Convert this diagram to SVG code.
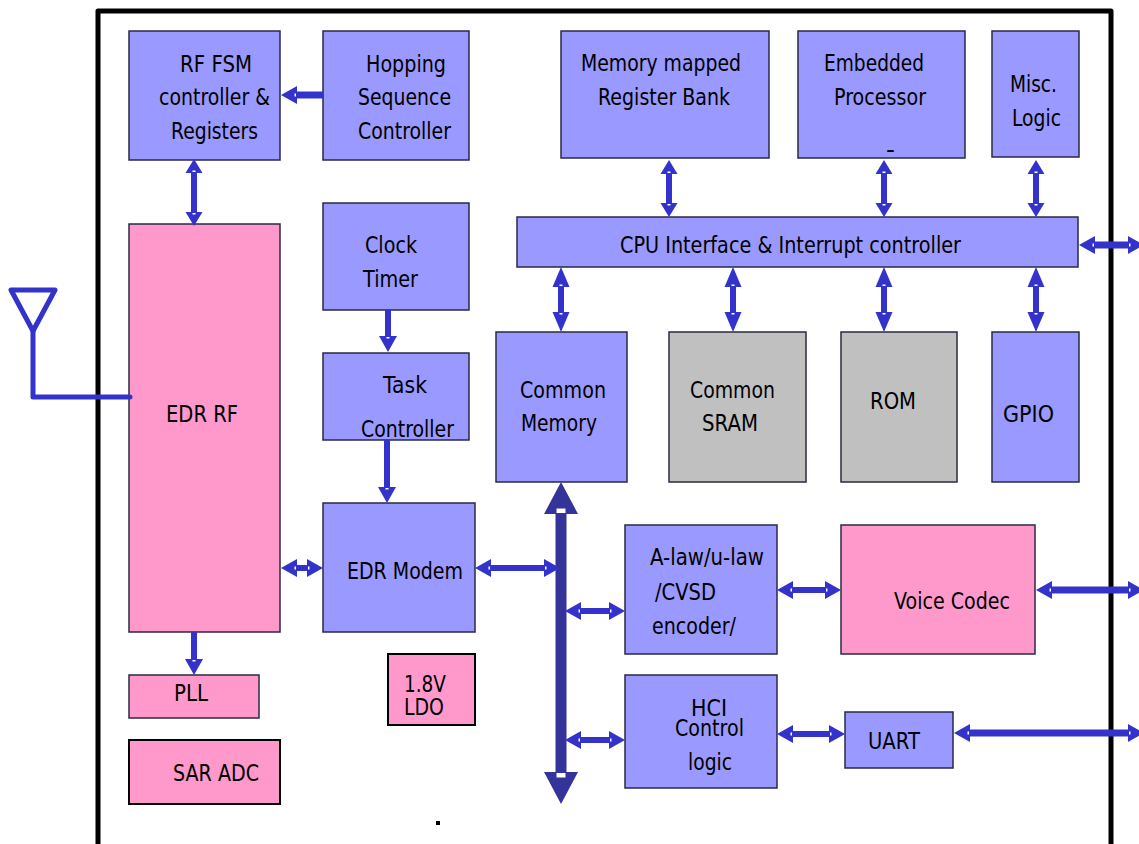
<svg xmlns="http://www.w3.org/2000/svg" width="1139" height="844" viewBox="0 0 1139 844">
<style>
.n{stroke:#2a2a44;stroke-width:1.5}
.b{fill:#9999ff}.p{fill:#ff99cc}.g{fill:#c0c0c0}
.k{stroke:#000;stroke-width:2}
text{font-family:"DejaVu Sans",Verdana,sans-serif;font-size:23px;fill:#000}
.c{stroke:#3333cc;stroke-width:6;fill:none}
.w{stroke-width:7}
</style>
<defs>
<marker id="a" markerUnits="userSpaceOnUse" markerWidth="14" markerHeight="18" viewBox="0 0 14 18" refX="0" refY="9" orient="auto-start-reverse"><path d="M0,0.5L14,9L0,17.5z" fill="#3333cc"/><rect x="1" y="7.5" width="1.5" height="3" fill="#fff"/></marker>
<marker id="h" markerUnits="userSpaceOnUse" markerWidth="20" markerHeight="18" viewBox="0 0 20 18" refX="0" refY="9" orient="auto-start-reverse"><path d="M0,0.5L20,9L0,17.5z" fill="#3333cc"/><rect x="1" y="7.5" width="1.5" height="3" fill="#fff"/></marker>
<marker id="m" markerUnits="userSpaceOnUse" markerWidth="16" markerHeight="18" viewBox="0 0 16 18" refX="0" refY="9" orient="auto-start-reverse"><path d="M0,0L16,9L0,18z" fill="#3333cc"/><rect x="1" y="7.5" width="1.5" height="3" fill="#fff"/></marker>
<marker id="big" markerUnits="userSpaceOnUse" markerWidth="32" markerHeight="34" viewBox="0 0 32 34" refX="0" refY="17" orient="auto-start-reverse"><path d="M0,0L32,17L0,34z" fill="#333399"/><rect x="1" y="12.5" width="4.5" height="9" fill="#fff"/></marker>
</defs>
<path id="frame" d="M98,844V11H1111V844" fill="none" stroke="#000" stroke-width="5" stroke-linejoin="round"/>
<g id="rf-fsm"><rect class="n b" x="129" y="31" width="151" height="129"/><text x="180" y="72" textLength="72" lengthAdjust="spacingAndGlyphs">RF FSM</text><text x="159" y="105" textLength="111" lengthAdjust="spacingAndGlyphs">controller &amp;</text><text x="171" y="139" textLength="87" lengthAdjust="spacingAndGlyphs">Registers</text></g>
<g id="hopping"><rect class="n b" x="323" y="31" width="146" height="129"/><text x="366" y="72" textLength="80" lengthAdjust="spacingAndGlyphs">Hopping</text><text x="358" y="105" textLength="93" lengthAdjust="spacingAndGlyphs">Sequence</text><text x="358" y="139" textLength="93" lengthAdjust="spacingAndGlyphs">Controller</text></g>
<g id="register-bank"><rect class="n b" x="561" y="31" width="208" height="127"/><text x="581" y="71" textLength="160" lengthAdjust="spacingAndGlyphs">Memory mapped</text><text x="598" y="105" textLength="132" lengthAdjust="spacingAndGlyphs">Register Bank</text></g>
<g id="processor"><rect class="n b" x="798" y="31" width="167" height="127"/><text x="824" y="71" textLength="100" lengthAdjust="spacingAndGlyphs">Embedded</text><text x="834" y="105" textLength="92" lengthAdjust="spacingAndGlyphs">Processor</text><text x="886" y="157" textLength="9" lengthAdjust="spacingAndGlyphs">-</text></g>
<g id="misc"><rect class="n b" x="992" y="31" width="87" height="126"/><text x="1010" y="92" textLength="47" lengthAdjust="spacingAndGlyphs">Misc.</text><text x="1012" y="126" textLength="49" lengthAdjust="spacingAndGlyphs">Logic</text></g>
<g id="cpu"><rect class="n b" x="517" y="217" width="561" height="50"/><text x="620" y="253" textLength="341" lengthAdjust="spacingAndGlyphs">CPU Interface &amp; Interrupt controller</text></g>
<g id="clock"><rect class="n b" x="323" y="203" width="146" height="107"/><text x="365" y="253" textLength="52" lengthAdjust="spacingAndGlyphs">Clock</text><text x="363" y="287" textLength="55" lengthAdjust="spacingAndGlyphs">Timer</text></g>
<g id="task"><rect class="n b" x="323" y="353" width="146" height="87"/><text x="383" y="393" textLength="44" lengthAdjust="spacingAndGlyphs">Task</text><text x="361" y="437" textLength="93" lengthAdjust="spacingAndGlyphs">Controller</text></g>
<g id="common-memory"><rect class="n b" x="496" y="332" width="131" height="150"/><text x="520" y="398" textLength="86" lengthAdjust="spacingAndGlyphs">Common</text><text x="521" y="431" textLength="76" lengthAdjust="spacingAndGlyphs">Memory</text></g>
<g id="sram"><rect class="n g" x="669" y="332" width="137" height="150"/><text x="690" y="398" textLength="85" lengthAdjust="spacingAndGlyphs">Common</text><text x="702" y="431" textLength="56" lengthAdjust="spacingAndGlyphs">SRAM</text></g>
<g id="rom"><rect class="n g" x="841" y="332" width="116" height="150"/><text x="870" y="409" textLength="46" lengthAdjust="spacingAndGlyphs">ROM</text></g>
<g id="gpio"><rect class="n b" x="992" y="332" width="87" height="150"/><text x="1003" y="422" textLength="51" lengthAdjust="spacingAndGlyphs">GPIO</text></g>
<g id="edr-rf"><rect class="n p" x="129" y="224" width="151" height="408"/><text x="166" y="422" textLength="72" lengthAdjust="spacingAndGlyphs">EDR RF</text></g>
<g id="edr-modem"><rect class="n b" x="323" y="503" width="152" height="129"/><text x="347" y="579" textLength="116" lengthAdjust="spacingAndGlyphs">EDR Modem</text></g>
<g id="encoder"><rect class="n b" x="625" y="525" width="152" height="129"/><text x="650" y="565" textLength="114" lengthAdjust="spacingAndGlyphs">A-law/u-law</text><text x="655" y="600" textLength="61" lengthAdjust="spacingAndGlyphs">/CVSD</text><text x="652" y="634" textLength="84" lengthAdjust="spacingAndGlyphs">encoder/</text></g>
<g id="voice-codec"><rect class="n p" x="841" y="525" width="194" height="129"/><text x="894" y="609" textLength="116" lengthAdjust="spacingAndGlyphs">Voice Codec</text></g>
<g id="hci"><rect class="n b" x="625" y="675" width="152" height="113"/><text x="691" y="716" textLength="36" lengthAdjust="spacingAndGlyphs">HCI</text><text x="675" y="736" textLength="69" lengthAdjust="spacingAndGlyphs">Control</text><text x="688" y="770" textLength="44" lengthAdjust="spacingAndGlyphs">logic</text></g>
<g id="uart"><rect class="n b" x="845" y="712" width="108" height="56"/><text x="868" y="749" textLength="52" lengthAdjust="spacingAndGlyphs">UART</text></g>
<g id="pll"><rect class="n p" x="129" y="675" width="130" height="43"/><text x="174" y="701" textLength="34" lengthAdjust="spacingAndGlyphs">PLL</text></g>
<g id="sar-adc"><rect class="k p" x="129" y="740" width="151" height="64"/><text x="173" y="781" textLength="86" lengthAdjust="spacingAndGlyphs">SAR ADC</text></g>
<g id="ldo"><rect class="k p" x="388" y="654" width="87" height="71"/><text x="404" y="692" textLength="42" lengthAdjust="spacingAndGlyphs">1.8V</text><text x="404" y="715" textLength="40" lengthAdjust="spacingAndGlyphs">LDO</text></g>
<g id="antenna" fill="none" stroke="#3333cc" stroke-width="5" stroke-linejoin="round" stroke-linecap="round"><path d="M11,290H55L33,331z"/><path d="M33,331V397H130"/></g>
<g id="connectors">
<line x1="561" y1="514" x2="561" y2="772" stroke="#333399" stroke-width="11" marker-start="url(#big)" marker-end="url(#big)"/>
<line class="c" x1="194" y1="173" x2="194" y2="212" marker-start="url(#a)" marker-end="url(#a)"/>
<line class="c w" x1="323" y1="95" x2="297" y2="95" marker-end="url(#m)"/>
<line class="c" x1="388" y1="310" x2="388" y2="336" marker-end="url(#m)"/>
<line class="c" x1="387" y1="440" x2="387" y2="487" marker-end="url(#m)"/>
<line class="c" x1="669" y1="174" x2="669" y2="203" marker-start="url(#a)" marker-end="url(#a)"/>
<line class="c" x1="884" y1="174" x2="884" y2="203" marker-start="url(#a)" marker-end="url(#a)"/>
<line class="c" x1="1036" y1="174" x2="1036" y2="203" marker-start="url(#a)" marker-end="url(#a)"/>
<line class="c" x1="561" y1="287" x2="561" y2="312" marker-start="url(#h)" marker-end="url(#h)"/>
<line class="c" x1="733" y1="287" x2="733" y2="312" marker-start="url(#h)" marker-end="url(#h)"/>
<line class="c" x1="884" y1="287" x2="884" y2="312" marker-start="url(#h)" marker-end="url(#h)"/>
<line class="c" x1="1036" y1="287" x2="1036" y2="312" marker-start="url(#h)" marker-end="url(#h)"/>
<line class="c w" x1="1095" y1="245" x2="1128" y2="245" marker-start="url(#m)" marker-end="url(#m)"/>
<line class="c" x1="297" y1="568" x2="307" y2="568" marker-start="url(#m)" marker-end="url(#m)"/>
<line class="c" x1="491" y1="568" x2="544" y2="568" marker-start="url(#m)" marker-end="url(#m)"/>
<line class="c" x1="581" y1="611" x2="609" y2="611" marker-start="url(#m)" marker-end="url(#m)"/>
<line class="c" x1="581" y1="740" x2="609" y2="740" marker-start="url(#m)" marker-end="url(#m)"/>
<line class="c" x1="793" y1="590" x2="825" y2="590" marker-start="url(#m)" marker-end="url(#m)"/>
<line class="c" x1="793" y1="734" x2="829" y2="734" marker-start="url(#m)" marker-end="url(#m)"/>
<line class="c w" x1="1052" y1="590" x2="1128" y2="590" marker-start="url(#m)" marker-end="url(#m)"/>
<line class="c w" x1="970" y1="733" x2="1128" y2="733" marker-start="url(#m)" marker-end="url(#m)"/>
<line class="c" x1="194" y1="632" x2="194" y2="659" marker-end="url(#m)"/>
</g>
<rect id="dot" x="436" y="821" width="4" height="4" fill="#000"/>
</svg>
